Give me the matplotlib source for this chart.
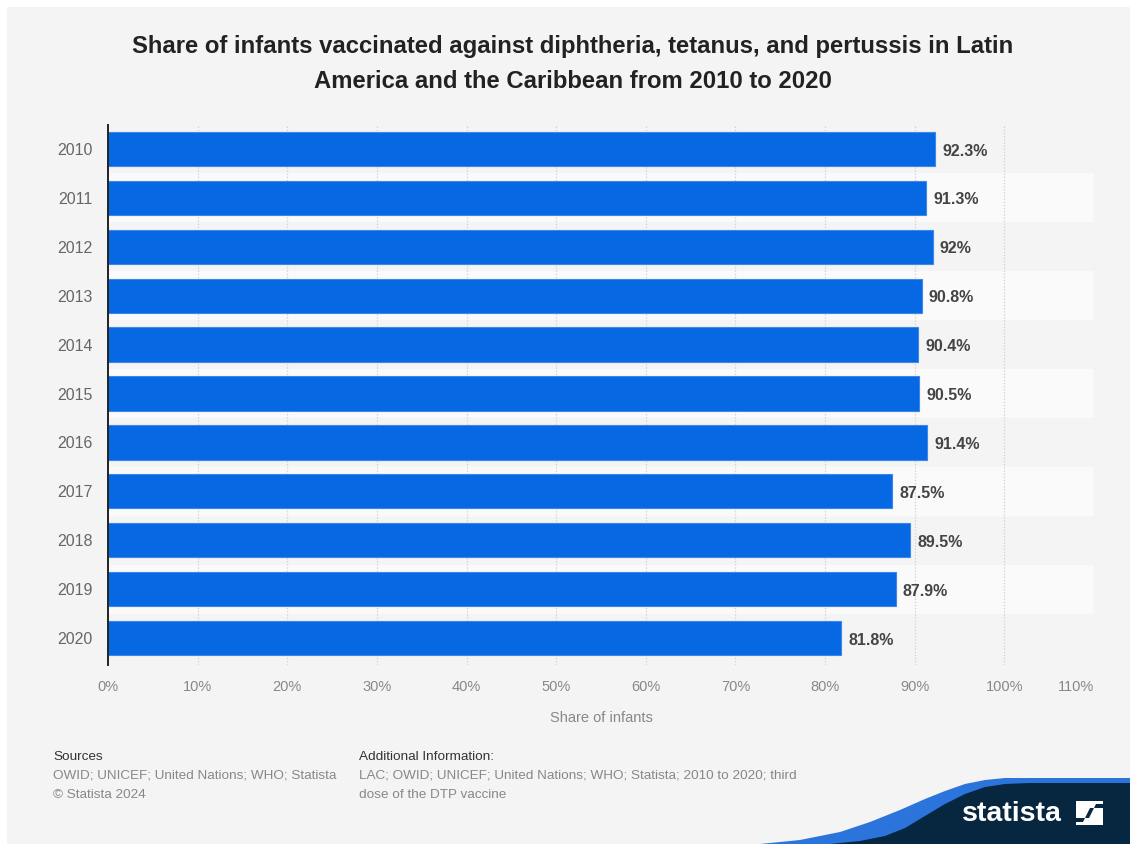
import matplotlib.pyplot as plt
import matplotlib.patches as patches
from matplotlib.path import Path
import numpy as np

plt.rcParams['font.family'] = ['Liberation Sans', 'DejaVu Sans']

years = ['2010', '2011', '2012', '2013', '2014', '2015', '2016', '2017', '2018', '2019', '2020']
share = [92.3, 91.3, 92.0, 90.8, 90.4, 90.5, 91.4, 87.5, 89.5, 87.9, 81.8]
labels = ['92.3%', '91.3%', '92%', '90.8%', '90.4%', '90.5%', '91.4%', '87.5%', '89.5%', '87.9%', '81.8%']
xticks = [0, 10, 20, 30, 40, 50, 60, 70, 80, 90, 100, 110]

W, H = 1130, 844
bg = '#f4f4f4'
fig = plt.figure(figsize=(W / 100, H / 100), dpi=100)
fig.patch.set_facecolor('white')

def fx(px):
    return px / W

def fy(py):
    return 1 - py / H

# grey panel behind everything
fig.patches.append(patches.Rectangle((fx(7), 0), 1 - fx(7), fy(7), transform=fig.transFigure,
                                     facecolor=bg, edgecolor='none', zorder=-5))

ax = fig.add_axes([fx(108), fy(665), fx(1094) - fx(108), fy(125) - fy(665)])
ax.set_facecolor(bg)

y = np.arange(len(years))
for i in y:
    if i % 2 == 1:
        ax.axhspan(i - 0.5, i + 0.5, color='#fafafa', zorder=0, lw=0)

ax.barh(y, share, height=0.7, color='#0768e3', edgecolor='#3d86ea', linewidth=0.8, zorder=3)
for i, (v, lab) in enumerate(zip(share, labels)):
    ax.annotate(lab, (v, i), xytext=(5, -1.5), textcoords='offset points', va='center', ha='left',
                fontsize=11.5, fontweight='bold', color='#444444', zorder=4)

ax.set_xlim(0, 110)
ax.set_ylim(10.55, -0.49)
ax.set_yticks(y)
ax.set_yticklabels(years, fontsize=11.5, color='#666666')
ax.set_xticks(xticks)
ax.set_xticklabels([f'{t}%' for t in xticks], fontsize=10.5, color='#888888')
ax.get_xticklabels()[-1].set_horizontalalignment('right')
ax.tick_params(axis='both', length=0)
ax.tick_params(axis='y', pad=11)
ax.tick_params(axis='x', pad=11)
for s in ['top', 'right', 'bottom']:
    ax.spines[s].set_visible(False)
ax.spines['left'].set_color('#222222')
ax.spines['left'].set_linewidth(1.4)
ax.spines['left'].set_zorder(5)
for t in xticks[1:]:
    ax.axvline(t, color='#cfcfcf', lw=0.9, ls=(0, (1, 1.5)), zorder=1)

ax.set_xlabel('Share of infants', fontsize=10.5, color='#888888', labelpad=12)

cx = 0.5 * (fx(125) + fx(1020))
fig.text(cx, fy(47),
         'Share of infants vaccinated against diphtheria, tetanus, and pertussis in Latin',
         ha='center', va='center', fontsize=17.2, fontweight='bold', color='#222222')
fig.text(cx, fy(82),
         'America and the Caribbean from 2010 to 2020',
         ha='center', va='center', fontsize=17.2, fontweight='bold', color='#222222')

# footer
fs = 9.7
fig.text(fx(53), fy(757), 'Sources', fontsize=fs, color='#333333', va='center')
fig.text(fx(53), fy(776), 'OWID; UNICEF; United Nations; WHO; Statista', fontsize=fs, color='#888888', va='center')
fig.text(fx(53), fy(795), '\u00a9 Statista 2024', fontsize=fs, color='#888888', va='center')
fig.text(fx(359), fy(757), 'Additional Information:', fontsize=fs, color='#333333', va='center')
fig.text(fx(359), fy(776), 'LAC; OWID; UNICEF; United Nations; WHO; Statista; 2010 to 2020; third',
         fontsize=fs, color='#888888', va='center')
fig.text(fx(359), fy(795), 'dose of the DTP vaccine', fontsize=fs, color='#888888', va='center')

# logo wave
def shape(pts):
    verts = [(fx(a), fy(b)) for a, b in pts]
    codes = [Path.MOVETO] + [Path.LINETO] * (len(verts) - 2) + [Path.CLOSEPOLY]
    return Path(verts, codes)

blue_pts = [(760, 844), (800, 840), (840, 832), (870, 822), (900, 810), (925, 799), (945, 791),
            (965, 784), (985, 780), (1005, 778), (1130, 778), (1130, 844), (760, 844)]
navy_pts = [(830, 844), (860, 841), (885, 836), (905, 828), (925, 816), (945, 804), (965, 794),
            (985, 787), (1005, 784), (1030, 783), (1130, 783), (1130, 844), (830, 844)]
fig.patches.append(patches.PathPatch(shape(blue_pts), transform=fig.transFigure,
                                     facecolor='#2b74dc', edgecolor='none', zorder=1))
fig.patches.append(patches.PathPatch(shape(navy_pts), transform=fig.transFigure,
                                     facecolor='#07263f', edgecolor='none', zorder=2))
fig.text(fx(962), fy(814), 'statista', fontsize=20.5, fontweight='bold', color='white',
         va='center', ha='left', zorder=3)
fig.patches.append(patches.Rectangle((fx(1076), fy(825)), fx(27), fy(801) - fy(825),
                                     transform=fig.transFigure, facecolor='white', edgecolor='none', zorder=3))
s_pts = [(1076, 822), (1083, 822), (1090, 808), (1103, 808), (1103, 804), (1096, 804), (1089, 818),
         (1076, 818), (1076, 822)]
fig.patches.append(patches.PathPatch(shape(s_pts), transform=fig.transFigure,
                                     facecolor='#07263f', edgecolor='none', zorder=4))

fig.savefig('out.png', dpi=100, facecolor=fig.get_facecolor())
